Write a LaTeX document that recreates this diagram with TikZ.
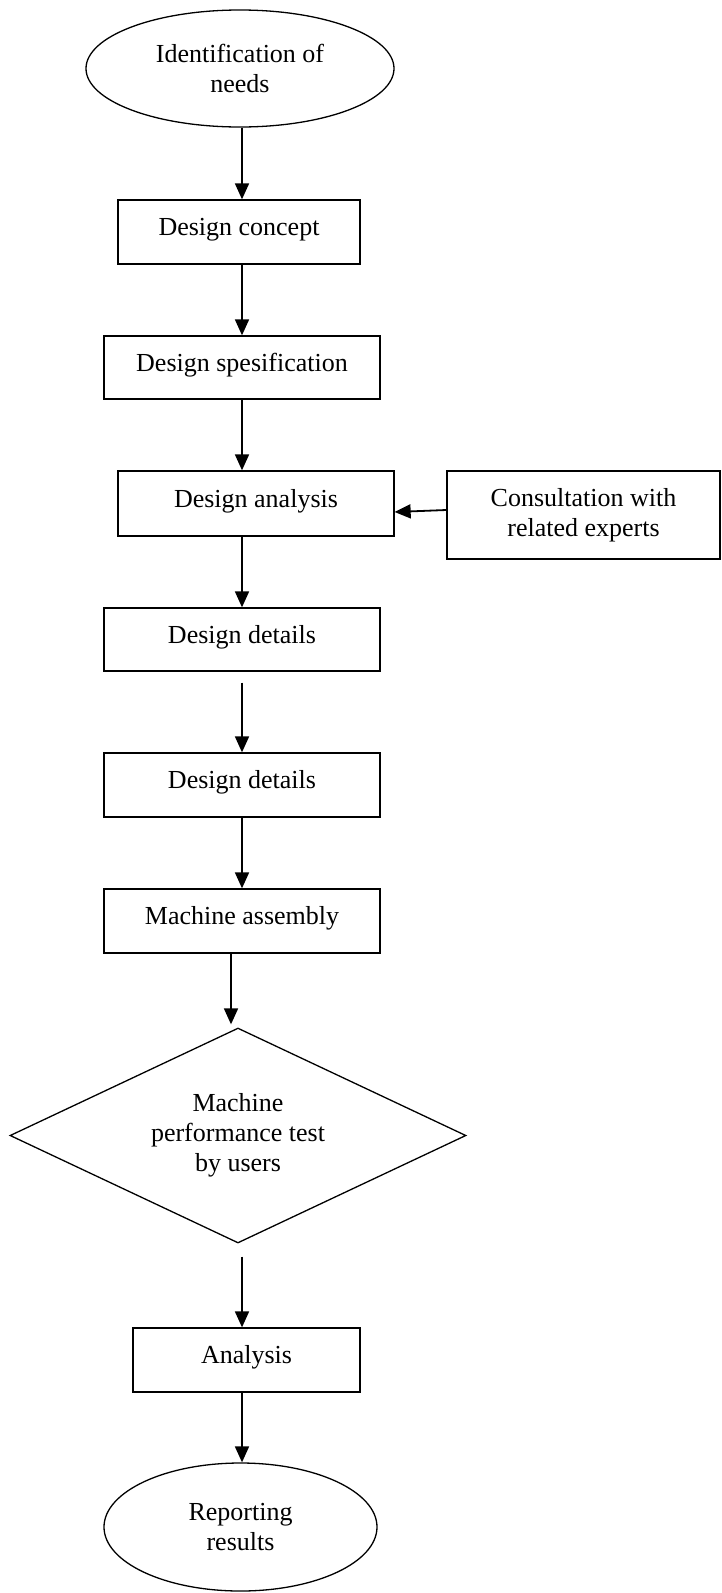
\documentclass[tikz,border=0pt]{standalone}
\usepackage{fontspec}
\setmainfont{Liberation Serif}
\usetikzlibrary{shapes.geometric,arrows.meta}
\begin{document}
\begin{tikzpicture}[x=1pt,y=-1pt,
  txt/.style={align=center,font=\fontsize{26}{30}\selectfont},
  box/.style={txt,draw,line width=1.3pt,rectangle,inner sep=0pt},
  oneline/.style={text height=18pt,text depth=11pt},
  oval/.style={txt,draw,line width=1.3pt,ellipse,inner sep=0pt},
  decision/.style={txt,draw,line width=1.3pt,diamond,aspect=2.12,inner sep=0pt},
  arr/.style={line width=1.8pt,-{Triangle[length=16pt,width=14pt]}}]
\useasboundingbox (0,0) rectangle (721,1593);
\coordinate (ax) at (242,0);
\coordinate (axb) at (231,0);
\node[oval,minimum width=308pt,minimum height=117pt] (needs) at (240,68.5) {Identification of\\needs};
\node[box,oneline,minimum width=242pt,minimum height=64pt] (concept) at (239,232) {Design concept};
\node[box,oneline,minimum width=276pt,minimum height=63pt] (spec) at (242,367.5) {Design spesification};
\node[box,oneline,minimum width=276pt,minimum height=65pt] (analysis) at (256,503.5) {Design analysis};
\node[box,minimum width=273pt,minimum height=88pt] (consult) at (583.5,515) {Consultation with\\related experts};
\node[box,oneline,minimum width=276pt,minimum height=63pt] (details1) at (242,639.5) {Design details};
\node[box,oneline,minimum width=276pt,minimum height=64pt] (details2) at (242,785) {Design details};
\node[box,oneline,minimum width=276pt,minimum height=64pt] (assembly) at (242,921) {Machine assembly};
\node[decision,minimum width=456pt,minimum height=215pt] (test) at (238,1135.5) {Machine\\performance test\\by users};
\node[box,oneline,minimum width=227pt,minimum height=64pt] (anal) at (246.5,1360) {Analysis};
\node[oval,minimum width=273pt,minimum height=128pt] (report) at (240.5,1527) {Reporting\\results};
\draw[arr] (needs.south -| ax) -- (concept.north -| ax);
\draw[arr] (concept.south -| ax) -- (spec.north -| ax);
\draw[arr] (spec.south -| ax) -- (analysis.north -| ax);
\draw[arr] ([yshift=5pt]consult.west) -- ([yshift=-8.5pt]analysis.east);
\draw[arr] (analysis.south -| ax) -- (details1.north -| ax);
\draw[arr,shorten <=11pt] (details1.south -| ax) -- (details2.north -| ax);
\draw[arr] (details2.south -| ax) -- (assembly.north -| ax);
\draw[arr,shorten >=3pt] (assembly.south -| axb) -- (test.north -| axb);
\draw[arr,shorten <=13pt] (test.south -| ax) -- (anal.north -| ax);
\draw[arr] (anal.south -| ax) -- (report.north -| ax);
\end{tikzpicture}
\end{document}
